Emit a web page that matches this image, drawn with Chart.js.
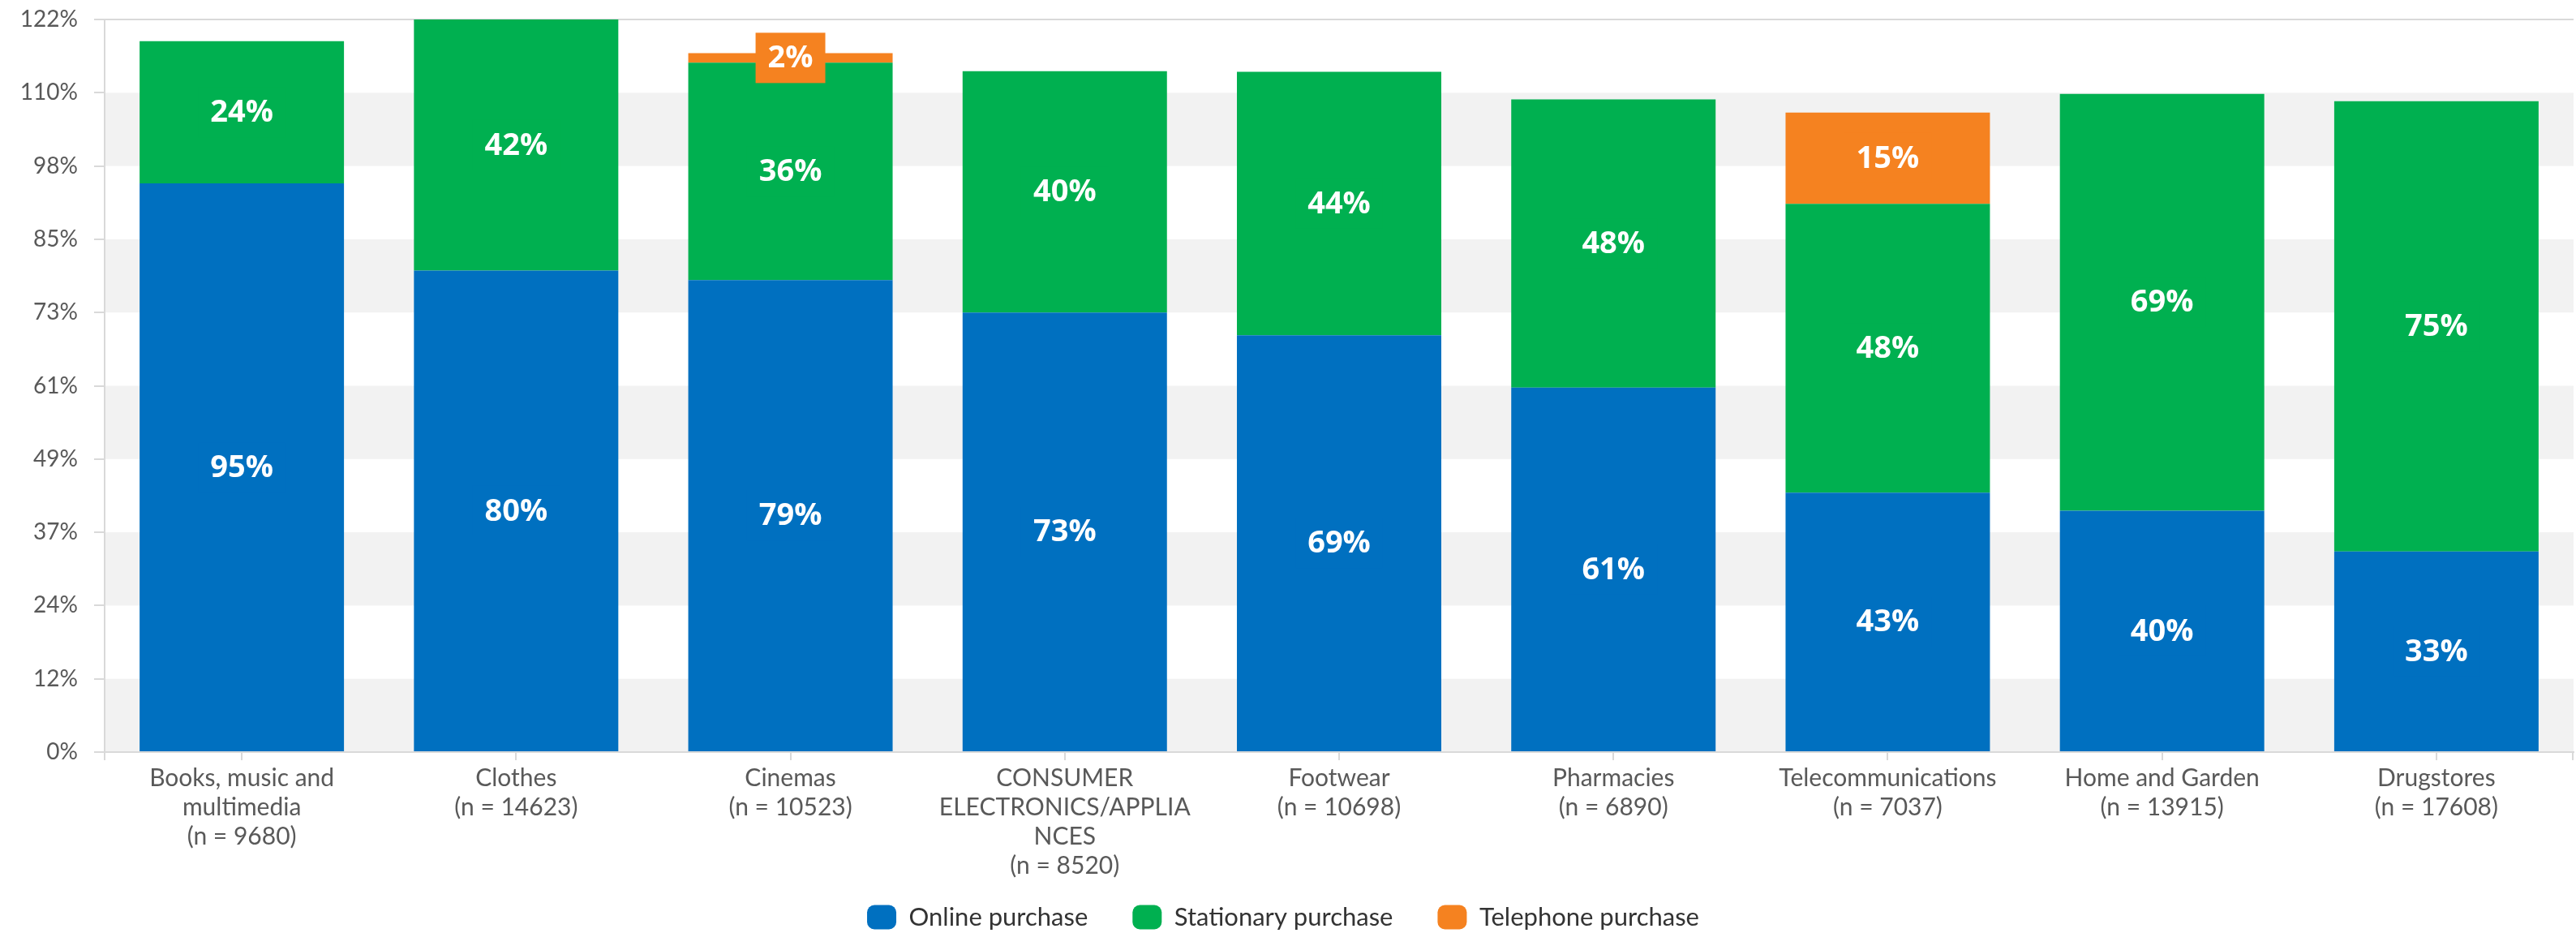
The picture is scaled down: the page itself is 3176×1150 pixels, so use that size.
<!DOCTYPE html>
<html><head><meta charset="utf-8">
<script src="https://cdn.jsdelivr.net/npm/chart.js@4.4.1/dist/chart.umd.min.js"></script>
<style>html,body{margin:0;padding:0;background:#fff}#wrap{width:3176px;height:1150px}</style>
</head><body><div id="wrap"><canvas id="c" width="3176" height="1150"></canvas></div>
<script>
const categories = [
  ["Books, music and","multimedia","(n = 9680)"],
  ["Clothes","(n = 14623)"],
  ["Cinemas","(n = 10523)"],
  ["CONSUMER","ELECTRONICS/APPLIA","NCES","(n = 8520)"],
  ["Footwear","(n = 10698)"],
  ["Pharmacies","(n = 6890)"],
  ["Telecommunications","(n = 7037)"],
  ["Home and Garden","(n = 13915)"],
  ["Drugstores","(n = 17608)"]
];
const seriesNames = ["Online purchase","Stationary purchase","Telephone purchase"];
const online     = [94.7, 80.2, 78.6, 73.2, 69.4, 60.7, 43.2, 40.2, 33.4];
const stationary = [23.7, 41.8, 36.2, 40.2, 43.9, 48.0, 48.1, 69.4, 75.0];
const telephone  = [null, null, 1.6, null, null, null, 15.2, null, null];
const yTickValues = [0, 12.2, 24.4, 36.6, 48.8, 61, 73.2, 85.4, 97.6, 109.8, 122];
const yTickLabels = ["0%","12%","24%","37%","49%","61%","73%","85%","98%","110%","122%"];
const colors = ["#0070C0","#00B050","#F58220"];

const GRID = "#d9d9d9";
const BAND = "#f2f2f2";

const bandPlugin = {
  id: "bands",
  afterLayout(chart) {
    if (chart.legend) { chart.legend.left -= 17; chart.legend.right -= 17; }
  },
  beforeDraw(chart) {
    const {ctx, chartArea} = chart;
    const y = chart.scales.y;
    ctx.save();
    ctx.fillStyle = BAND;
    for (let i = 0; i < yTickValues.length - 1; i += 2) {
      const y0 = y.getPixelForValue(yTickValues[i]);
      const y1 = y.getPixelForValue(yTickValues[i + 1]);
      ctx.fillRect(chartArea.left, y1, chartArea.right - chartArea.left, y0 - y1);
    }
    ctx.restore();
  },
  afterDraw(chart) {
    const {ctx, chartArea} = chart;
    ctx.save();
    ctx.strokeStyle = GRID;
    ctx.lineWidth = 2;
    [chartArea.left, chartArea.right - 1].forEach(x => {
      ctx.beginPath();
      ctx.moveTo(x, chartArea.bottom);
      ctx.lineTo(x, chartArea.bottom + 10);
      ctx.stroke();
    });
    ctx.restore();
  }
};

const labelPlugin = {
  id: "valueLabels",
  afterDatasetsDraw(chart) {
    const ctx = chart.ctx;
    ctx.save();
    ctx.font = 'bold 38px "Open Sans"';
    ctx.textAlign = "center";
    ctx.textBaseline = "middle";
    chart.data.datasets.forEach((ds, i) => {
      const meta = chart.getDatasetMeta(i);
      meta.data.forEach((bar, j) => {
        const v = ds.data[j];
        if (v == null || v === 0) return;
        const p = bar.getProps(["x", "y", "base"], true);
        const cy = (p.y + p.base) / 2;
        const txt = Math.round(v) + "%";
        const w = ctx.measureText(txt).width;
        ctx.fillStyle = ds.backgroundColor;
        ctx.fillRect(p.x - w / 2 - 15, cy - 31, w + 30, 62);
        ctx.fillStyle = "#ffffff";
        ctx.fillText(txt, p.x, cy + 1);
      });
    });
    ctx.restore();
  }
};

new Chart(document.getElementById("c"), {
  type: "bar",
  data: {
    labels: categories,
    datasets: [
      {label: seriesNames[0], data: online, backgroundColor: colors[0]},
      {label: seriesNames[1], data: stationary, backgroundColor: colors[1]},
      {label: seriesNames[2], data: telephone, backgroundColor: colors[2]}
    ]
  },
  options: {
    responsive: false,
    devicePixelRatio: 1,
    animation: false,
    categoryPercentage: 1,
    barPercentage: 0.745,
    layout: {padding: {left: 25, right: 3, top: 24, bottom: 0}},
    plugins: {
      tooltip: {enabled: false},
      legend: {
        position: "bottom",
        maxHeight: 90,
        labels: {
          boxWidth: 36, boxHeight: 30, useBorderRadius: true, borderRadius: 9,
          padding: 55, color: "#333333",
          font: {family: "Lato", size: 31}
        }
      }
    },
    scales: {
      x: {
        stacked: true,
        afterFit(s) { s.height = 133; s._computeLabelArea = function () { return undefined; }; },
        border: {display: true, color: GRID, width: 2},
        grid: {offset: false, drawOnChartArea: false, color: GRID, tickColor: GRID, tickLength: 10, lineWidth: 2},
        ticks: {color: "#595959", font: {family: "Lato", size: 30, lineHeight: 1.2}, padding: 4, maxRotation: 0, autoSkip: false}
      },
      y: {
        stacked: true,
        min: 0, max: 122,
        afterFit(s) { s.width = 104; s.paddingTop = 0; s.paddingBottom = 0; },
        afterBuildTicks(s) { s.ticks = yTickValues.map(v => ({value: v})); },
        border: {display: true, color: GRID, width: 2},
        grid: {
          color: c => (c.tick && c.tick.value >= 121.9) ? GRID : "rgba(0,0,0,0)",
          tickColor: GRID, tickLength: 13, lineWidth: 2
        },
        ticks: {
          color: "#595959", font: {family: "Lato", size: 28}, padding: 20,
          callback: (v, i) => yTickLabels[i]
        }
      }
    }
  },
  plugins: [bandPlugin, labelPlugin]
});
</script>
</body></html>
